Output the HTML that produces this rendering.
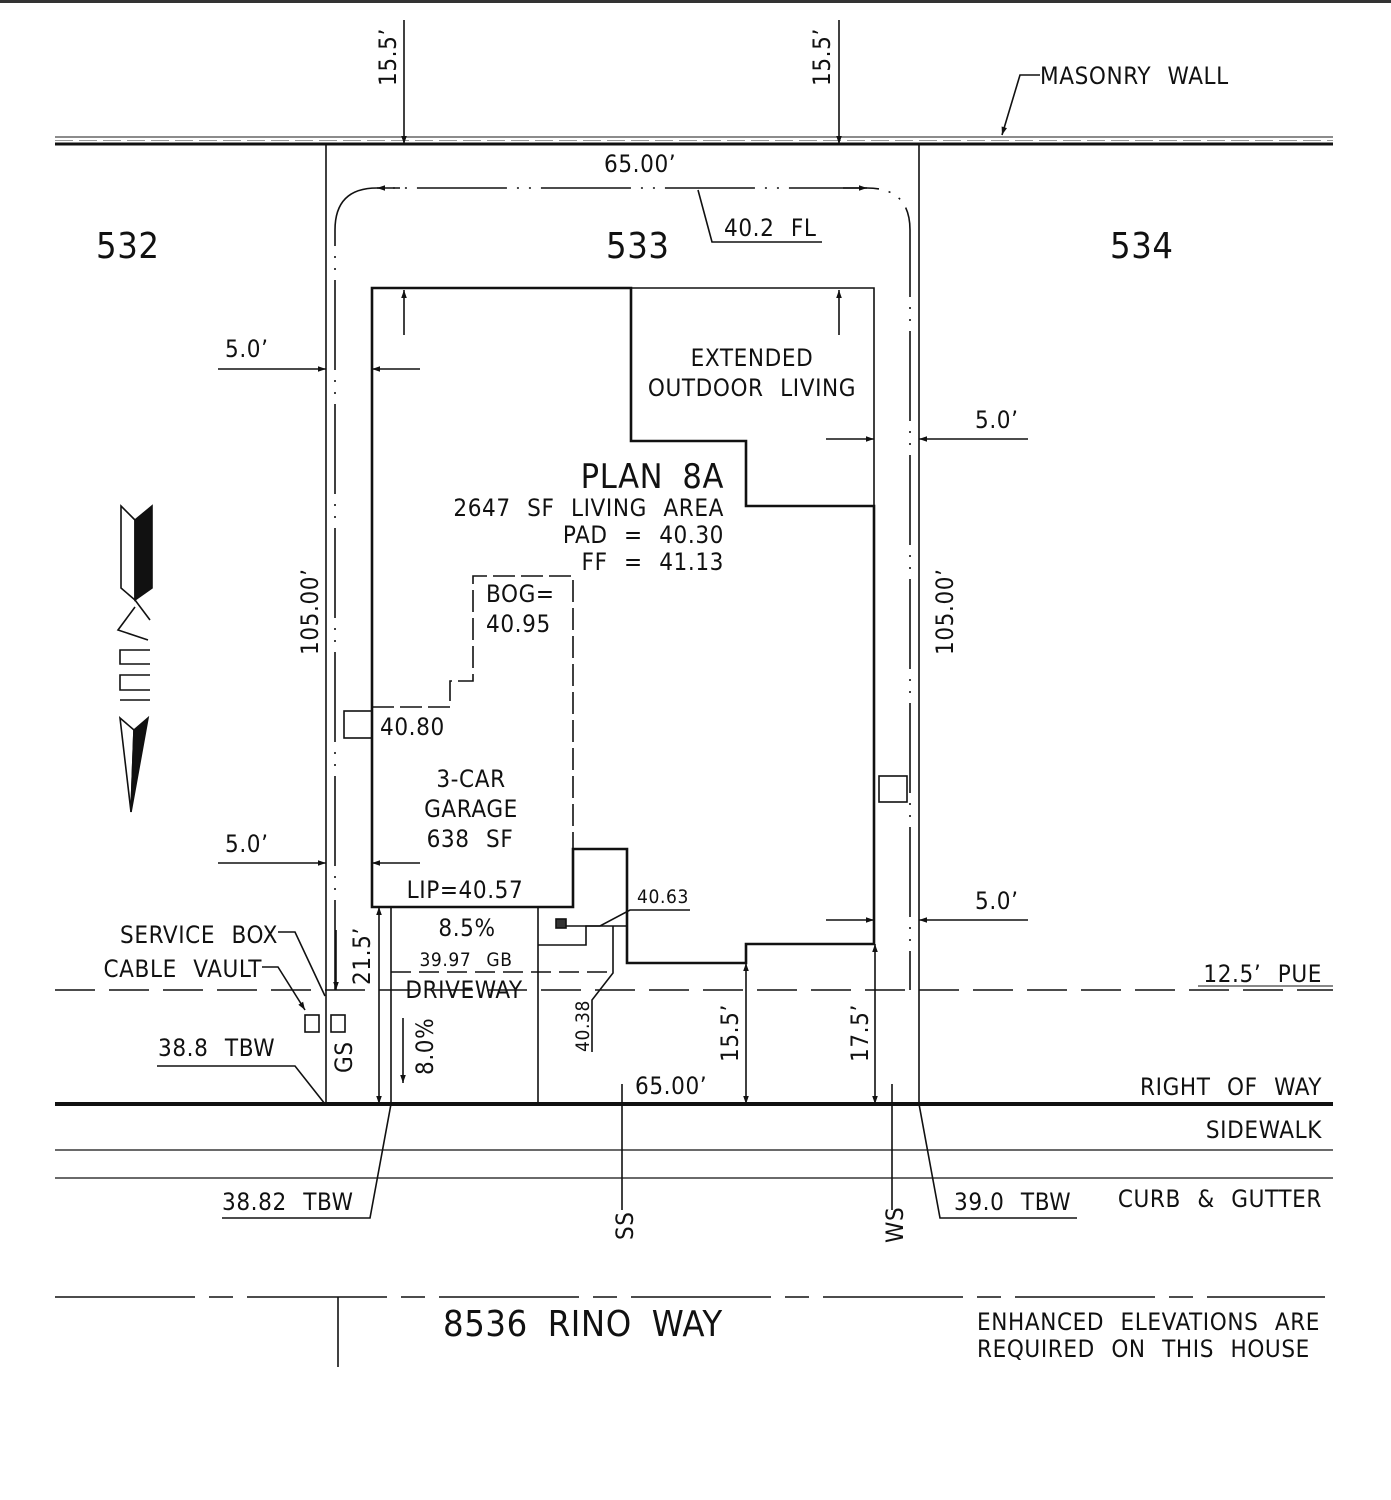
<!DOCTYPE html>
<html><head><meta charset="utf-8"><style>
html,body{margin:0;padding:0;background:#fff}
svg{display:block}
text{font-family:"DejaVu Sans Condensed","Liberation Sans Narrow","Liberation Sans",sans-serif;fill:#111;word-spacing:9px;letter-spacing:0.6px}
</style></head><body>
<svg width="1391" height="1500" viewBox="0 0 1391 1500" xmlns="http://www.w3.org/2000/svg">
<defs>
<marker id="a" viewBox="0 0 10 10" refX="10" refY="5" markerWidth="10" markerHeight="8" orient="auto-start-reverse" markerUnits="userSpaceOnUse"><path d="M0,1.5 L10,5 L0,8.5 z" fill="#111"/></marker>
</defs>
<rect x="0" y="0" width="1391" height="3" fill="#333"/>
<g stroke="#111" fill="none" stroke-width="1.6">
<line x1="55" y1="137" x2="1333" y2="137" stroke-width="1.5" stroke="#666"/>
<line x1="55" y1="144" x2="1333" y2="144" stroke-width="3"/>
<line x1="55" y1="140.5" x2="1333" y2="140.5" stroke-width="1" stroke="#999" stroke-dasharray="18,6"/>
<line x1="326" y1="144" x2="326" y2="1104"/>
<line x1="919" y1="144" x2="919" y2="1104"/>
<line x1="55" y1="1104" x2="1333" y2="1104" stroke-width="4"/>
<line x1="55" y1="1150" x2="1333" y2="1150" stroke-width="1.2"/>
<line x1="55" y1="1178" x2="1333" y2="1178" stroke-width="1.2"/>
<line x1="55" y1="990" x2="1333" y2="990" stroke-width="1.4" stroke-dasharray="40,14"/>
<line x1="55" y1="1297" x2="1325" y2="1297" stroke-width="1.4" stroke-dasharray="140,14,24,14"/>
<line x1="338" y1="1297" x2="338" y2="1367"/>
<path d="M335,990 L335,230 Q335,188 377,188 L867,188 Q910,188 910,230 L910,990" stroke-width="1.6" stroke-dasharray="90,10,2,10,2,10"/>
<line x1="377" y1="188" x2="400" y2="188" marker-start="url(#a)"/>
<line x1="843" y1="188" x2="867" y2="188" marker-end="url(#a)"/>
<path d="M372,288 L631,288 L631,441 L746,441 L746,506 L874,506 L874,944 L746,944 L746,963 L627,963 L627,849 L573,849 L573,907 L372,907 Z" stroke-width="2.6"/>
<path d="M631,288 L874,288 L874,506" stroke-width="1.6"/>
<path d="M372,707 L450,707 L450,681 L473,681 L473,576 L573,576 L573,849" stroke-width="1.6" stroke-dasharray="22,6"/>
<line x1="391" y1="907" x2="391" y2="1104"/>
<line x1="538" y1="907" x2="538" y2="1104"/>
<path d="M538,945 L586,945 L586,926 L627,926"/>
<path d="M613,926 L613,973 L592,1000 L592,1052"/>
<path d="M560,926 L600,926 L630,910 L690,910"/>
<line x1="391" y1="972" x2="613" y2="972" stroke-dasharray="20,8"/>
<rect x="556" y="919" width="10" height="9" fill="#333"/>
<line x1="404" y1="20" x2="404" y2="144" marker-end="url(#a)"/>
<line x1="839" y1="20" x2="839" y2="144" marker-end="url(#a)"/>
<line x1="404" y1="335" x2="404" y2="290" marker-end="url(#a)"/>
<line x1="839" y1="335" x2="839" y2="290" marker-end="url(#a)"/>
<line x1="218" y1="369" x2="326" y2="369" marker-end="url(#a)"/>
<line x1="420" y1="369" x2="372" y2="369" marker-end="url(#a)"/>
<line x1="218" y1="863" x2="326" y2="863" marker-end="url(#a)"/>
<line x1="420" y1="863" x2="372" y2="863" marker-end="url(#a)"/>
<line x1="826" y1="439" x2="874" y2="439" marker-end="url(#a)"/>
<line x1="1028" y1="439" x2="919" y2="439" marker-end="url(#a)"/>
<line x1="826" y1="920" x2="874" y2="920" marker-end="url(#a)"/>
<line x1="1028" y1="920" x2="919" y2="920" marker-end="url(#a)"/>
<line x1="379" y1="907" x2="379" y2="1104" marker-start="url(#a)" marker-end="url(#a)"/>
<line x1="746" y1="963" x2="746" y2="1104" marker-start="url(#a)" marker-end="url(#a)"/>
<line x1="875" y1="944" x2="875" y2="1104" marker-start="url(#a)" marker-end="url(#a)"/>
<line x1="336" y1="930" x2="336" y2="990" marker-end="url(#a)"/>
<line x1="403" y1="1018" x2="403" y2="1083" marker-end="url(#a)"/>
<line x1="622" y1="1084" x2="622" y2="1210"/>
<line x1="892" y1="1084" x2="892" y2="1210"/>
<path d="M1040,75 L1020,75 L1002,135" marker-end="url(#a)"/>
<path d="M822,242 L712,242 L698,190"/>
<path d="M278,932 L295,932 L325,996"/>
<path d="M262,967 L278,967 L305,1010" marker-end="url(#a)"/>
<path d="M157,1066 L295,1066 L325,1104"/>
<path d="M222,1218 L370,1218 L391,1104"/>
<path d="M1077,1218 L940,1218 L919,1104"/>
<line x1="1198" y1="986" x2="1333" y2="986" stroke-width="1"/>
<rect x="305" y="1015" width="14" height="17"/>
<rect x="331" y="1015" width="14" height="17"/>
<rect x="344" y="711" width="28" height="27"/>
<rect x="879" y="776" width="28" height="26"/>
<path d="M121,506 L135,520 L135,600 L121,588 Z" fill="#fff"/>
<path d="M135,520 L152,506 L152,588 L135,600 Z" fill="#111"/>
<path d="M120,718 L134,730 L131,812 Z" fill="#fff"/>
<path d="M134,730 L148,718 L131,812 Z" fill="#111"/>
<path d="M135,600 L150,620 M135,607 L118,630 L148,640 M150,650 L120,650 L120,664 L150,664 M150,675 L120,675 L120,690 L150,690 M120,700 L150,700" stroke-width="1.6"/>
</g>
<g font-size="24">
<text x="96" y="258" font-size="36">532</text>
<text x="606" y="258" font-size="36">533</text>
<text x="1110" y="258" font-size="36">534</text>
<text x="604" y="172">65.00’</text>
<text x="724" y="236">40.2 FL</text>
<text x="1040" y="84">MASONRY WALL</text>
<text x="225" y="357">5.0’</text>
<text x="225" y="852">5.0’</text>
<text x="975" y="428">5.0’</text>
<text x="975" y="909">5.0’</text>
<text x="752" y="366" text-anchor="middle">EXTENDED</text>
<text x="752" y="396" text-anchor="middle">OUTDOOR LIVING</text>
<text x="724" y="488" font-size="34" text-anchor="end">PLAN 8A</text>
<text x="724" y="516" text-anchor="end">2647 SF LIVING AREA</text>
<text x="724" y="543" text-anchor="end">PAD = 40.30</text>
<text x="724" y="570" text-anchor="end">FF = 41.13</text>
<text x="486" y="602">BOG=</text>
<text x="486" y="632">40.95</text>
<text x="380" y="735">40.80</text>
<text x="471" y="787" text-anchor="middle">3-CAR</text>
<text x="471" y="817" text-anchor="middle">GARAGE</text>
<text x="470" y="847" text-anchor="middle">638 SF</text>
<text x="465" y="898" text-anchor="middle">LIP=40.57</text>
<text x="467" y="936" text-anchor="middle">8.5%</text>
<text x="466" y="966" font-size="19" text-anchor="middle">39.97 GB</text>
<text x="464" y="998" text-anchor="middle">DRIVEWAY</text>
<text x="637" y="903" font-size="19">40.63</text>
<text x="278" y="943" text-anchor="end">SERVICE BOX</text>
<text x="262" y="977" text-anchor="end">CABLE VAULT</text>
<text x="158" y="1056">38.8 TBW</text>
<text x="1322" y="982" text-anchor="end">12.5’ PUE</text>
<text x="1322" y="1095" text-anchor="end">RIGHT OF WAY</text>
<text x="1322" y="1138" text-anchor="end">SIDEWALK</text>
<text x="1322" y="1207" text-anchor="end">CURB &amp; GUTTER</text>
<text x="954" y="1210">39.0 TBW</text>
<text x="222" y="1210">38.82 TBW</text>
<text x="635" y="1094">65.00’</text>
<text x="443" y="1336" font-size="36">8536 RINO WAY</text>
<text x="977" y="1330">ENHANCED ELEVATIONS ARE</text>
<text x="977" y="1357">REQUIRED ON THIS HOUSE</text>
<text transform="translate(396,86) rotate(-90)">15.5’</text>
<text transform="translate(830,86) rotate(-90)">15.5’</text>
<text transform="translate(318,655) rotate(-90)">105.00’</text>
<text transform="translate(953,655) rotate(-90)">105.00’</text>
<text transform="translate(370,985) rotate(-90)">21.5’</text>
<text transform="translate(352,1073) rotate(-90)">GS</text>
<text transform="translate(433,1075) rotate(-90)">8.0%</text>
<text transform="translate(589,1052) rotate(-90)" font-size="19">40.38</text>
<text transform="translate(738,1062) rotate(-90)">15.5’</text>
<text transform="translate(868,1062) rotate(-90)">17.5’</text>
<text transform="translate(633,1240) rotate(-90)">SS</text>
<text transform="translate(903,1243) rotate(-90)">WS</text>
</g>
</svg>
</body></html>
